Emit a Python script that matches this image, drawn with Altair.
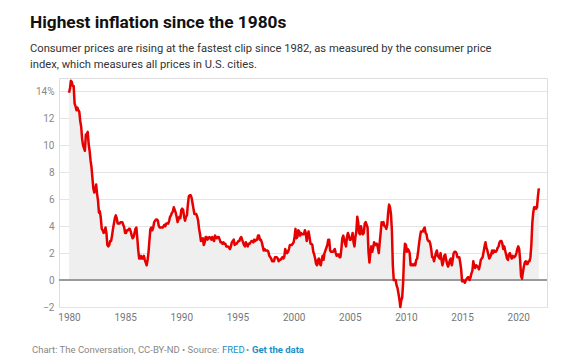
import altair as alt
import pandas as pd

# Monthly CPI year-over-year change (%), Jan 1980 – Nov 2021
v1980s = [
    13.9, 14.2, 14.8, 14.7, 14.4, 14.4, 13.1, 12.9, 12.6, 12.8, 12.6, 12.5,
    11.8, 11.4, 10.5, 10.0, 9.8, 9.6, 10.8, 10.8, 11.0, 10.1, 9.6, 8.9,
    8.4, 7.6, 6.8, 6.5, 6.7, 7.1, 6.4, 5.9, 5.0, 5.1, 4.6, 3.8,
    3.7, 3.5, 3.6, 3.9, 3.5, 2.6, 2.5, 2.6, 2.9, 2.9, 3.3, 3.8,
    4.2, 4.6, 4.8, 4.6, 4.2, 4.2, 4.2, 4.3, 4.3, 4.3, 4.1, 3.9,
    3.5, 3.5, 3.7, 3.7, 3.8, 3.8, 3.6, 3.3, 3.1, 3.2, 3.5, 3.8,
    3.9, 3.1, 2.2, 1.6, 1.6, 1.8, 1.6, 1.6, 1.8, 1.5, 1.3, 1.1,
    1.5, 2.1, 3.0, 3.8, 3.9, 3.7, 3.9, 4.3, 4.4, 4.5, 4.5, 4.4,
    4.0, 3.9, 3.9, 3.9, 3.9, 4.0, 4.1, 4.0, 4.2, 4.2, 4.2, 4.4,
    4.7, 4.8, 5.0, 5.1, 5.4, 5.2, 5.0, 4.7, 4.3, 4.5, 4.7, 4.6,
]
v1990s = [
    5.2, 5.3, 5.2, 4.7, 4.4, 4.7, 4.8, 5.6, 6.2, 6.3, 6.3, 6.1,
    5.7, 5.3, 4.9, 4.9, 4.9, 4.7, 4.4, 3.8, 3.4, 2.9, 3.0, 3.1,
    2.6, 2.8, 3.2, 3.2, 3.0, 3.1, 3.2, 3.1, 3.0, 3.2, 3.0, 2.9,
    3.3, 3.2, 3.1, 3.2, 3.2, 3.0, 2.8, 2.8, 2.7, 2.8, 2.7, 2.7,
    2.5, 2.5, 2.5, 2.4, 2.3, 2.5, 2.8, 2.9, 3.0, 2.6, 2.7, 2.7,
    2.8, 2.9, 2.9, 3.1, 3.2, 3.0, 2.8, 2.6, 2.5, 2.8, 2.6, 2.5,
    2.7, 2.7, 2.8, 2.9, 2.9, 2.8, 3.0, 2.9, 3.0, 3.0, 3.3, 3.3,
    3.0, 3.0, 2.8, 2.5, 2.2, 2.3, 2.2, 2.2, 2.2, 2.1, 1.8, 1.7,
    1.6, 1.4, 1.4, 1.4, 1.7, 1.7, 1.7, 1.6, 1.4, 1.5, 1.5, 1.6,
    1.7, 1.6, 1.7, 2.3, 2.1, 2.0, 2.1, 2.3, 2.6, 2.6, 2.6, 2.7,
]
v2000s = [
    2.8, 3.2, 3.8, 3.1, 3.2, 3.7, 3.6, 3.3, 3.5, 3.4, 3.4, 3.4,
    3.7, 3.5, 2.9, 3.3, 3.6, 3.2, 2.7, 2.7, 2.6, 2.1, 1.9, 1.6,
    1.2, 1.1, 1.5, 1.6, 1.2, 1.1, 1.5, 1.8, 1.5, 2.0, 2.2, 2.4,
    2.6, 3.0, 3.0, 2.2, 2.1, 2.1, 2.1, 2.2, 2.3, 2.0, 1.8, 1.9,
    1.9, 1.7, 1.7, 2.3, 3.1, 3.3, 3.0, 2.7, 2.5, 3.2, 3.5, 3.3,
    3.0, 3.0, 3.1, 3.5, 2.8, 2.5, 3.2, 3.6, 4.7, 4.3, 3.5, 3.4,
    4.0, 3.6, 3.4, 3.5, 4.2, 4.3, 4.1, 3.9, 2.1, 1.3, 2.0, 2.5,
    2.1, 2.4, 2.8, 2.6, 2.7, 2.7, 2.4, 2.0, 2.8, 3.5, 4.3, 4.1,
    4.3, 4.0, 4.0, 3.8, 4.1, 5.0, 5.6, 5.4, 4.9, 3.7, 1.1, 0.0,
    0.0, 0.0, -0.4, -0.6, -1.0, -1.4, -2.0, -1.5, -1.3, -0.2, 1.8, 2.7,
]
v2010s = [
    2.6, 2.1, 2.3, 2.2, 2.0, 1.1, 1.2, 1.1, 1.1, 1.2, 1.1, 1.5,
    1.6, 2.1, 2.7, 3.2, 3.6, 3.6, 3.6, 3.8, 3.9, 3.5, 3.4, 3.0,
    2.9, 2.9, 2.7, 2.3, 1.7, 1.7, 1.4, 1.7, 2.0, 2.2, 1.8, 1.7,
    1.6, 2.0, 1.5, 1.1, 1.4, 1.8, 1.9, 1.5, 1.2, 1.0, 1.2, 1.5,
    1.6, 1.1, 1.5, 2.0, 2.1, 2.1, 2.0, 1.7, 1.7, 1.7, 1.3, 0.8,
    -0.1, 0.0, -0.1, -0.2, 0.0, 0.1, 0.2, 0.2, 0.0, 0.2, 0.5, 0.7,
    1.4, 1.0, 0.9, 1.1, 1.0, 1.0, 0.8, 1.1, 1.5, 1.6, 1.7, 2.1,
    2.5, 2.8, 2.4, 2.2, 1.9, 1.6, 1.7, 1.9, 2.2, 2.0, 2.2, 2.1,
    2.1, 2.2, 2.4, 2.5, 2.8, 2.9, 2.9, 2.7, 2.3, 2.5, 2.2, 1.9,
    1.6, 1.5, 1.9, 2.0, 1.8, 1.6, 1.8, 1.7, 1.7, 1.8, 2.0, 2.3,
]
v2020s = [
    2.5, 2.3, 1.5, 0.3, 0.1, 0.6, 1.0, 1.3, 1.4, 1.2, 1.2, 1.4,
    1.4, 1.7, 2.6, 4.2, 5.0, 5.4, 5.4, 5.3, 5.4, 6.2, 6.8,
]

x_ticks = [1980, 1985, 1990, 1995, 2000, 2005, 2010, 2015, 2020]
y_ticks = [-2, 0, 2, 4, 6, 8, 10, 12, 14]

title_text = "Highest inflation since the 1980s"
subtitle_lines = [
    "Consumer prices are rising at the fastest clip since 1982, as measured by the consumer price",
    "index, which measures all prices in U.S. cities.",
]

values = v1980s + v1990s + v2000s + v2010s + v2020s
df = pd.DataFrame({
    "t": [1980 + i / 12 for i in range(len(values))],
    "v": values,
    "z": [0.0] * len(values),
})

FONT = "Roboto"
W, H = 488, 229

xs = alt.X("t:Q", scale=alt.Scale(domain=[1979.11, 2022.56], nice=False, zero=False),
           axis=alt.Axis(values=x_ticks, tickCount=50, format="d", title=None, grid=False,
                         domain=False, ticks=False, labelPadding=5, labelFontSize=10,
                         labelColor="#777", labelFont=FONT, labelOverlap=False))
ys = alt.Y("v:Q", scale=alt.Scale(domain=[-2, 15], nice=False),
           axis=alt.Axis(values=y_ticks, tickCount=50, format="d", title=None, domain=False,
                         ticks=False, labelPadding=5, labelFontSize=10, labelColor="#888",
                         labelFont=FONT, labelOverlap=False, labelFlush=False,
                         grid=True, gridColor="#e4e4e4", gridWidth=1,
                         labelExpr="datum.value == 14 ? datum.label + '%' : datum.label"))

base = alt.Chart(df)
area = base.mark_area(color="#efefef", opacity=1).encode(x=xs, y=ys, y2="z:Q")
zero = base.mark_rule(color="#9a9a9a", strokeWidth=2).encode(
    y=alt.datum(0), x=alt.value(0), x2=alt.value(W))
line = base.mark_line(color="#e60000", strokeWidth=2.5, strokeJoin="round").encode(x=xs, y=ys)

def txt(s, x, y, size, color, weight="normal"):
    return alt.Chart(pd.DataFrame({"s": [s]})).mark_text(
        align="left", baseline="alphabetic", font=FONT, fontSize=size,
        color=color, fontWeight=weight).encode(
        text="s:N", x=alt.value(x), y=alt.value(y))

ox, oy = 59, 78
texts = [
    txt(title_text, 30 - ox, 27.5 - oy, 17.3, "#111", "bold"),
    txt(subtitle_lines[0], 30 - ox, 51.5 - oy, 11.2, "#333"),
    txt(subtitle_lines[1], 30 - ox, 67.5 - oy, 11.2, "#333"),
    txt("Chart: The Conversation, CC-BY-ND \u2022 Source: ", 32 - ox, 352.5 - oy, 9.5, "#888"),
    txt("FRED", 222 - ox, 352.5 - oy, 9.5, "#1a8fc4"),
    txt("\u2022", 246 - ox, 352.5 - oy, 9.5, "#888"),
    txt("Get the data", 252 - ox, 352.5 - oy, 9.5, "#1a8fc4", "bold"),
]

chart = alt.layer(area, zero, line, *texts).properties(
    width=W, height=H,
    autosize=alt.AutoSizeParams(type="none"),
    padding={"left": 51, "top": 70, "right": 15, "bottom": 49},
).configure_view(stroke=None).configure(background="white")

chart.save("out.html", embed_options={"renderer": "svg", "actions": False})
